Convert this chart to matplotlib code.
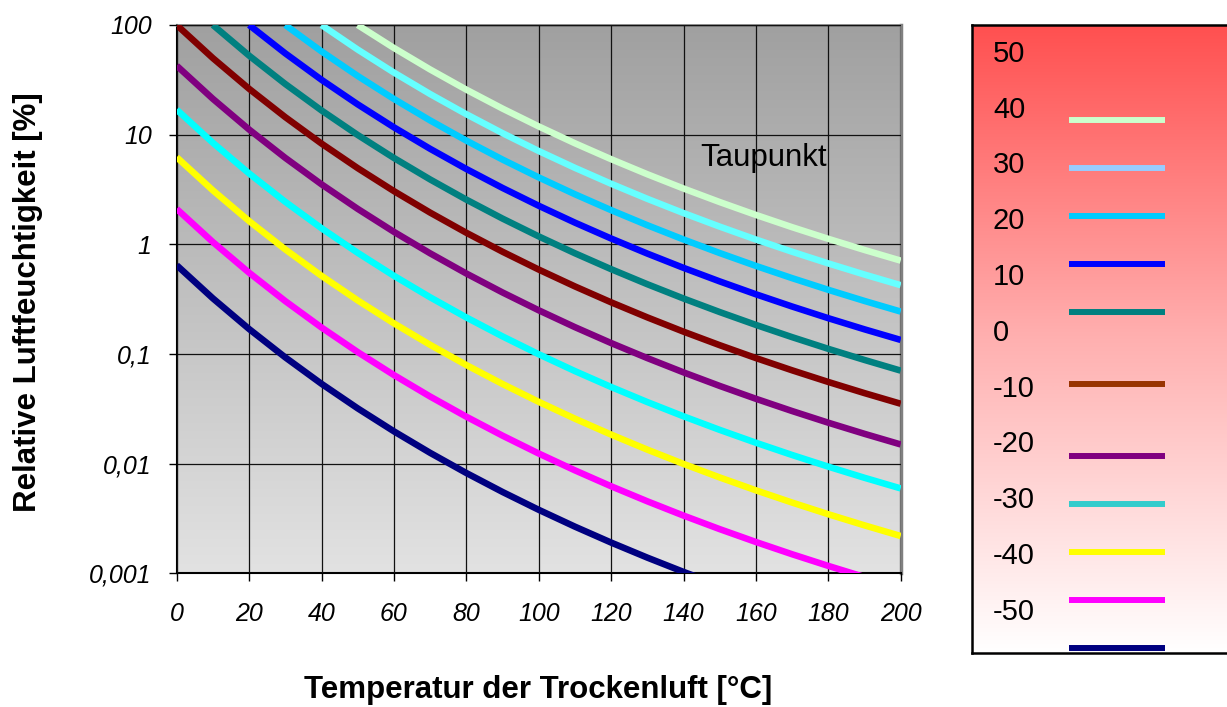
import numpy as np
import matplotlib
matplotlib.use("Agg")
import matplotlib.pyplot as plt
from matplotlib.colors import LinearSegmentedColormap

plt.rcParams['font.family'] = ['Liberation Sans', 'DejaVu Sans']

# ---------------- data ----------------
temps = [0, 10, 20, 30, 40, 50, 60, 70, 80, 90, 100, 110, 120, 130, 140,
         150, 160, 170, 180, 190, 200]

dew_points = [50, 40, 30, 20, 10, 0, -10, -20, -30, -40, -50]

nan = float('nan')
rh_p50 = [nan, nan, nan, nan, nan, 100, 61.74, 39.32, 25.74, 17.29, 11.89, 8.346, 5.977,
          4.356, 3.228, 2.429, 1.854, 1.433, 1.122, 0.888, 0.710]
rh_p40 = [nan, nan, nan, nan, 100, 59.69, 36.85, 23.47, 15.37, 10.32, 7.095, 4.982, 3.568,
          2.600, 1.927, 1.450, 1.106, 0.8556, 0.6696, 0.5300, 0.4240]
rh_p30 = [nan, nan, nan, 100, 57.45, 34.29, 21.17, 13.49, 8.828, 5.929, 4.076, 2.862, 2.050,
          1.494, 1.107, 0.8329, 0.6357, 0.4915, 0.3847, 0.3045, 0.2436]
rh_p20 = [nan, nan, 100, 55.11, 31.66, 18.90, 11.67, 7.432, 4.866, 3.268, 2.247, 1.577, 1.130,
          0.8234, 0.6101, 0.4591, 0.3503, 0.2709, 0.2120, 0.1678, 0.1343]
rh_p10 = [nan, 100, 52.56, 28.96, 16.64, 9.932, 6.132, 3.906, 2.557, 1.717, 1.181, 0.8289,
          0.5936, 0.4327, 0.3206, 0.2412, 0.1841, 0.1424, 0.1114, 0.0882, 0.0705]
rh_0 = [100, 49.85, 26.20, 14.44, 8.295, 4.951, 3.057, 1.947, 1.275, 0.8561, 0.5886, 0.4133,
        0.2959, 0.2157, 0.1598, 0.1203, 0.09178, 0.07097, 0.05555, 0.04396, 0.03517]
rh_m10 = [42.52, 21.20, 11.14, 6.139, 3.527, 2.105, 1.300, 0.8280, 0.5420, 0.3640, 0.2503,
          0.1757, 0.1258, 0.09172, 0.06797, 0.05114, 0.03903, 0.03018, 0.02362, 0.01870, 0.01496]
rh_m20 = [16.90, 8.423, 4.428, 2.440, 1.402, 0.8367, 0.5166, 0.3290, 0.2154, 0.1447, 0.09946,
          0.06983, 0.05001, 0.03645, 0.02701, 0.02032, 0.01551, 0.01199, 0.009386, 0.007429,
          0.005943]
rh_m30 = [6.222, 3.102, 1.630, 0.8983, 0.5161, 0.3081, 0.1902, 0.1212, 0.07931, 0.05327,
          0.03662, 0.02571, 0.01841, 0.01342, 0.009945, 0.007483, 0.005711, 0.004416, 0.003456,
          0.002736, 0.002188]
rh_m40 = [2.102, 1.048, 0.5509, 0.3035, 0.1744, 0.1041, 0.06427, 0.04094, 0.02680, 0.01800,
          0.01237, 0.008688, 0.006220, 0.004535, 0.003360, 0.002528, 0.001930, 0.001492,
          0.001168, 0.000924, 0.000739]
rh_m50 = [0.6446, 0.3213, 0.1689, 0.09307, 0.05347, 0.03192, 0.01971, 0.01255, 0.008217,
          0.005519, 0.003794, 0.002664, 0.001907, 0.001390, 0.001030, 0.000775, 0.000592,
          0.000458, 0.000358, 0.000283, 0.000227]

series = [rh_p50, rh_p40, rh_p30, rh_p20, rh_p10, rh_0, rh_m10, rh_m20, rh_m30, rh_m40, rh_m50]

curve_colors = ['#CCFFCC', '#66FFFF', '#00CCFF', '#0000FF', '#008080', '#800000',
                '#800080', '#00FFFF', '#FFFF00', '#FF00FF', '#000080']
legend_colors = ['#CCFFCC', '#99CCFF', '#00CCFF', '#0000FF', '#008080', '#993300',
                 '#800080', '#33CCCC', '#FFFF00', '#FF00FF', '#000080']

ytick_vals = [0.001, 0.01, 0.1, 1, 10, 100]
ytick_labels = ['0,001', '0,01', '0,1', '1', '10', '100']
xtick_vals = [0, 20, 40, 60, 80, 100, 120, 140, 160, 180, 200]
legend_labels = ['50', '40', '30', '20', '10', '0', '-10', '-20', '-30', '-40', '-50']

# ---------------- figure ----------------
W, H = 1227, 707
fig = plt.figure(figsize=(W / 100, H / 100), dpi=100)

x0, x1, y0, y1 = 176.7, 900.7, 25.0, 573.3
ax = fig.add_axes([x0 / W, 1 - y1 / H, (x1 - x0) / W, (y1 - y0) / H])

# gradient background (row 0 = top)
grad = np.linspace(0, 1, 256).reshape(-1, 1)
gray_cmap = LinearSegmentedColormap.from_list('g', ['#A0A0A0', '#E2E2E2'])
ax.imshow(grad, cmap=gray_cmap, aspect='auto', extent=[0, 1, 0, 1], origin='upper',
          transform=ax.transAxes, zorder=0, interpolation='bicubic')

ax.set_yscale('log')
ax.set_xlim(0, 200)
ax.set_ylim(0.001, 100)

t = np.array(temps, dtype=float)
for vals, col in zip(series, curve_colors):
    ax.plot(t, np.array(vals, dtype=float), color=col, lw=4.7, zorder=3,
            solid_capstyle='butt')

ax.set_yticks(ytick_vals)
ax.set_yticklabels(ytick_labels)
ax.yaxis.set_minor_locator(matplotlib.ticker.NullLocator())
ax.set_xticks(xtick_vals)
ax.set_xticklabels([str(v) for v in xtick_vals])
ax.grid(True, which='major', color='#111111', lw=0.9, zorder=1)
ax.set_axisbelow(False)
for gl in ax.get_xgridlines() + ax.get_ygridlines():
    gl.set_zorder(1)

ax.tick_params(axis='both', direction='out', length=6, width=1.0, color='black',
               labelsize=18)
ax.tick_params(axis='y', pad=12)
ax.tick_params(axis='x', pad=15)
for lab in ax.get_xticklabels() + ax.get_yticklabels():
    lab.set_fontstyle('italic')

ax.spines['left'].set_color('black')
ax.spines['bottom'].set_color('black')
ax.spines['left'].set_linewidth(1.5)
ax.spines['bottom'].set_linewidth(1.5)
ax.spines['top'].set_color('#808080')
ax.spines['right'].set_color('#808080')
ax.spines['top'].set_linewidth(2.0)
ax.spines['right'].set_linewidth(2.5)

ax.text(0.723, 0.757, 'Taupunkt', transform=ax.transAxes, fontsize=22.5,
        ha='left', va='center', color='black', zorder=4)

fig.text(538 / W, 1 - 690 / H, 'Temperatur der Trockenluft [°C]', fontsize=22.5,
         fontweight='bold', ha='center', va='center')
fig.text(28 / W, 1 - 302 / H, 'Relative Luftfeuchtigkeit [%]', fontsize=22.5,
         fontweight='bold', ha='center', va='center', rotation=90)

# ---------------- legend box ----------------
lx0, lx1, ly0, ly1 = 972.0, 1240.0, 25.0, 652.7
lax = fig.add_axes([lx0 / W, 1 - ly1 / H, (lx1 - lx0) / W, (ly1 - ly0) / H])
lax.set_xlim(0, lx1 - lx0)
lax.set_ylim(ly1 - ly0, 0)
red_cmap = LinearSegmentedColormap.from_list('r', ['#FF5050', '#FFB0B0', '#FFFFFF'])
lax.imshow(grad, cmap=red_cmap, aspect='auto', extent=[0, 1, 0, 1], origin='upper',
           transform=lax.transAxes, zorder=0, interpolation='bicubic')
lax.set_xticks([])
lax.set_yticks([])
for sp in lax.spines.values():
    sp.set_color('black')
    sp.set_linewidth(1.8)

label_top, label_step = 53.8 - ly0, 55.8
for i, lab in enumerate(legend_labels):
    lax.text(21, label_top + i * label_step, lab, fontsize=21, ha='left',
             va='center', color='black')

line_top, line_step = 120.3 - ly0, 48.0
for i, col in enumerate(legend_colors):
    extra = 0.0 if i < 5 else (24.0 if i == 5 else 48.0)
    yy = line_top + i * line_step + extra
    lax.plot([97, 193], [yy, yy], color=col, lw=4.3, solid_capstyle='butt', zorder=2,
             clip_on=True)

fig.savefig('out.png', dpi=100)
